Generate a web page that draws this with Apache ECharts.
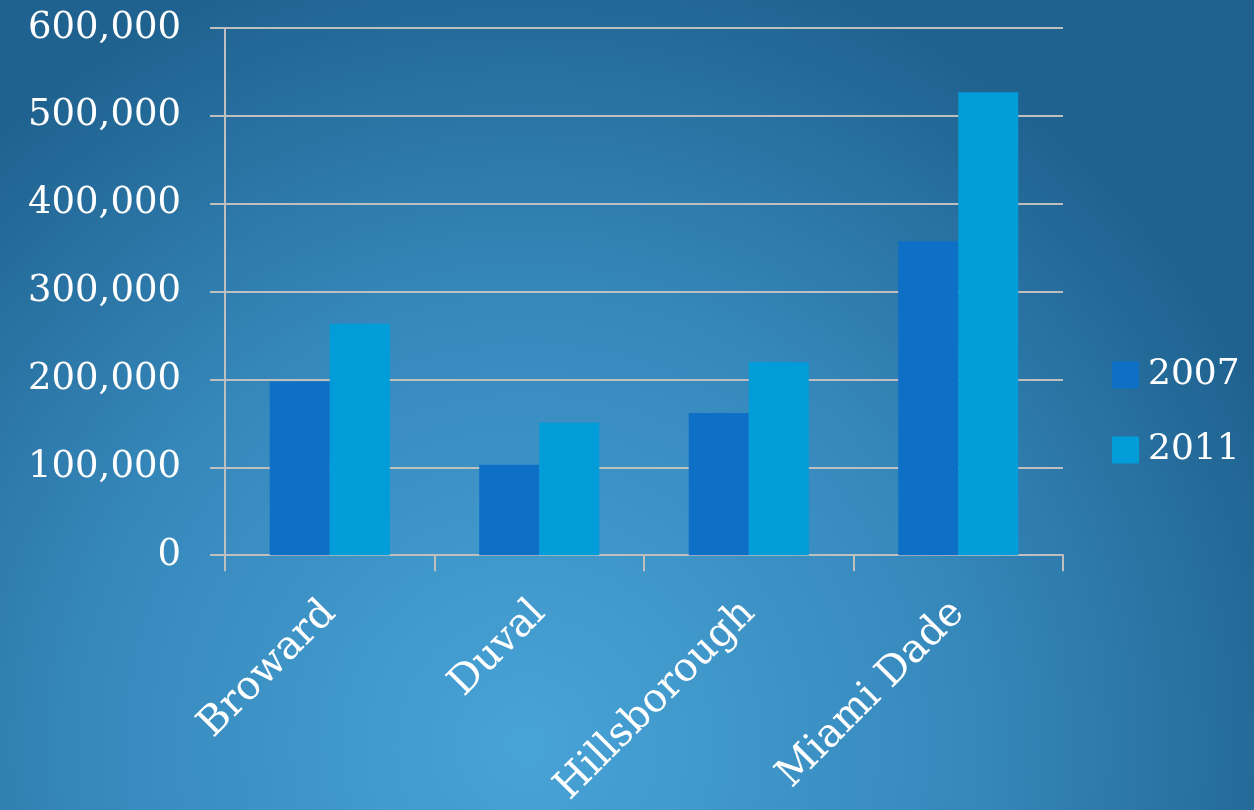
<!DOCTYPE html>
<html>
<head>
<meta charset="utf-8">
<script src="https://cdn.jsdelivr.net/npm/echarts@6/dist/echarts.min.js"></script>
<style>
  html, body { margin: 0; padding: 0; }
  #chart { width: 1254px; height: 810px; }
</style>
</head>
<body>
<div id="chart"></div>
<script>
// County totals for two survey years
const counties = ['Broward', 'Duval', 'Hillsborough', 'Miami Dade'];
const seriesNames = ['2007', '2011'];
const values2007 = [197700, 103000, 161800, 357300];
const values2011 = [263300, 150800, 219700, 527000];
const yTicks = [0, 100000, 200000, 300000, 400000, 500000, 600000];

const colors = ['#0e6fc6', '#009dd9'];
const fontFamily = '"DejaVu Serif", "Liberation Serif", serif';
const axisGray = '#bfbfbf';

const chart = echarts.init(document.getElementById('chart'), null, { renderer: 'canvas' });

chart.setOption({
  animation: false,
  backgroundColor: {
    type: 'radial', x: 0.42, y: 0.92, r: 1.0,
    colorStops: [
      { offset: 0, color: '#48a3d6' },
      { offset: 0.55, color: '#3688bb' },
      { offset: 1, color: '#1f6290' }
    ]
  },
  color: colors,
  grid: { left: 225, right: 191, top: 28, bottom: 254, containLabel: false },
  legend: {
    orient: 'vertical',
    left: 1107,
    top: 352,
    itemWidth: 27,
    itemHeight: 27,
    itemGap: 39,
    icon: 'rect',
    data: seriesNames,
    textStyle: {
      color: '#ffffff', fontSize: 36, fontFamily: fontFamily,
      lineHeight: 27, padding: [0, 0, 0, 4]
    }
  },
  xAxis: {
    type: 'category',
    data: counties,
    axisLine: { lineStyle: { color: axisGray, width: 2 } },
    axisTick: { show: true, length: 16, lineStyle: { color: axisGray, width: 2 } },
    axisLabel: {
      rotate: 45, margin: 52, color: '#ffffff', fontSize: 40, fontFamily: fontFamily,
      interval: 0
    }
  },
  yAxis: {
    type: 'value',
    min: yTicks[0],
    max: yTicks[yTicks.length - 1],
    interval: yTicks[1] - yTicks[0],
    axisLine: { show: true, lineStyle: { color: axisGray, width: 2 } },
    axisTick: { show: true, length: 15, lineStyle: { color: axisGray, width: 2 } },
    splitLine: { lineStyle: { color: axisGray, width: 2 } },
    axisLabel: {
      margin: 44, color: '#ffffff', fontSize: 37, fontFamily: fontFamily,
      formatter: v => v.toLocaleString('en-US')
    }
  },
  series: [
    { name: seriesNames[0], type: 'bar', data: values2007, barGap: '0%', barCategoryGap: '42.7%' },
    { name: seriesNames[1], type: 'bar', data: values2011, barGap: '0%', barCategoryGap: '42.7%' }
  ]
});
</script>
</body>
</html>
